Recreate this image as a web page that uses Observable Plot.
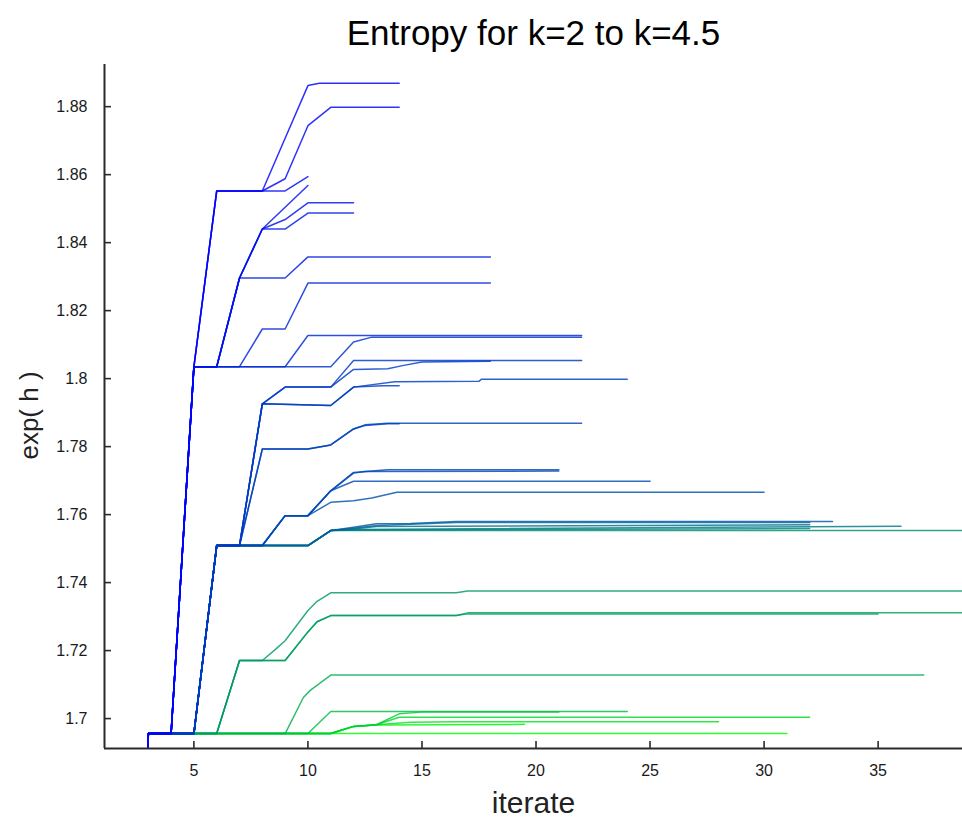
<!DOCTYPE html>
<html>
<head>
<meta charset="utf-8">
<script src="https://cdn.jsdelivr.net/npm/d3@7"></script>
<script src="https://cdn.jsdelivr.net/npm/@observablehq/plot@0.6"></script>
<style>
  html, body { margin: 0; padding: 0; background: #fff; }
  #chart { width: 962px; height: 819px; }
</style>
</head>
<body>
<div id="chart"></div>
<script>
// ---- axis limits and ticks ----
const xDomain = [1.08, 38.7];
const yDomain = [1.6912, 1.8924];
const xTicks = [5, 10, 15, 20, 25, 30, 35];
const yTicks = [1.70, 1.72, 1.74, 1.76, 1.78, 1.80, 1.82, 1.84, 1.86, 1.88];

// ---- shared beginnings of the runs: [iterate, exp(h)] ----
const start = [[2, 1.0], [3, 1.6956], [4, 1.6956]];
const topStart = [...start, [5, 1.8035]];
const midStart = [...start, [5, 1.6956], [6, 1.7509], [7, 1.7509]];
const clusterStart = [...start, [5, 1.6956], [6, 1.7509], [10, 1.7509], [11, 1.7553]];
const greenStart = [...start, [6, 1.6956], [7, 1.7171]];

// ---- upper runs ----
const T1 = [...topStart, [6, 1.8552], [8, 1.8552], [9, 1.8707], [10, 1.8862], [10.5, 1.8869], [14, 1.8869]];
const T2 = [...topStart, [6, 1.8552], [8, 1.8552], [9, 1.8588], [10, 1.8744], [11, 1.8798], [14, 1.8798]];
const T3 = [...topStart, [6, 1.8552], [9, 1.8552], [10, 1.8594]];
const T4 = [...topStart, [6, 1.8035], [7, 1.8296], [8, 1.8440], [10, 1.8568]];
const T5 = [...topStart, [6, 1.8035], [7, 1.8296], [8, 1.8440], [9, 1.8468], [10, 1.8517], [12, 1.8517]];
const T6 = [...topStart, [6, 1.8035], [7, 1.8296], [8, 1.8440], [9, 1.8440], [10, 1.8487], [12, 1.8487]];
const T7 = [...topStart, [6, 1.8035], [7, 1.8296], [9, 1.8296], [10, 1.8358], [18, 1.8358]];
const T8 = [...topStart, [7, 1.8035], [8, 1.8146], [9, 1.8146], [10, 1.8281], [18, 1.8281]];
const T9 = [...topStart, [9, 1.8035], [10, 1.8127], [22, 1.8127]];
const T10 = [...topStart, [11, 1.8035], [12, 1.8108], [12.8, 1.8122], [22, 1.8122]];

// ---- middle runs ----
const M1 = [...midStart, [8, 1.7926], [9, 1.7975], [11, 1.7975], [12, 1.8053], [22, 1.8053]];
const M2 = [...midStart, [8, 1.7926], [9, 1.7975], [11, 1.7975], [12, 1.8027], [13.5, 1.8029], [14.2, 1.8039], [15, 1.8049], [18, 1.8051]];
const M3 = [...midStart, [8, 1.7926], [11, 1.7921], [12, 1.7975], [13.3, 1.7979], [14, 1.7979]];
const M4 = [...midStart, [8, 1.7926], [11, 1.7921], [12, 1.7975], [13.8, 1.7991], [17.5, 1.7992], [17.6, 1.7998], [24, 1.7998]];
const M5 = [...midStart, [8, 1.7793], [10, 1.7793], [11, 1.7805], [12, 1.7852], [12.5, 1.7862], [13.5, 1.7867], [14, 1.7867]];
const M6 = [...midStart, [8, 1.7793], [10, 1.7793], [11, 1.7805], [12, 1.7852], [12.5, 1.7864], [13.5, 1.7869], [22, 1.7869]];
const M7 = [...midStart, [8, 1.7509], [9, 1.7597], [10, 1.7597], [11, 1.7670], [12, 1.7722], [12.5, 1.7727], [21, 1.7728]];
const M8 = [...midStart, [8, 1.7509], [9, 1.7597], [10, 1.7597], [11, 1.7670], [12, 1.7724], [13.5, 1.7732], [21, 1.7732]];
const M9 = [...midStart, [8, 1.7509], [9, 1.7597], [10, 1.7597], [11, 1.7670], [12, 1.7698], [25, 1.7698]];
const M10 = [...midStart, [8, 1.7509], [9, 1.7597], [10, 1.7597], [11, 1.7636], [12, 1.7641], [12.8, 1.7649], [13.9, 1.7666], [30, 1.7666]];

// ---- 1.755 bundle ----
const C1 = [...clusterStart, [12, 1.7563], [12.5, 1.7568], [13, 1.7573], [14.5, 1.7574], [16.5, 1.7580], [33, 1.7580]];
const C2 = [...clusterStart, [12, 1.7560], [13, 1.7568], [14.5, 1.7572], [16.5, 1.7577], [32, 1.7577]];
const C3 = [...clusterStart, [12, 1.7558], [13, 1.7565], [32, 1.7570]];
const C4 = [...clusterStart, [12, 1.7556], [36, 1.7566]];
const C5 = [...clusterStart, [12, 1.7555], [32, 1.7559]];
const C6 = [...clusterStart, [39, 1.7553]];

// ---- lower runs ----
const G1 = [...greenStart, [8, 1.7171], [8.6, 1.7205], [9, 1.7229], [10, 1.7318], [10.4, 1.7345], [11, 1.7370], [16.5, 1.7370], [17, 1.7375], [39, 1.7375]];
const G2 = [...greenStart, [9, 1.7171], [10, 1.7255], [10.4, 1.7285], [11, 1.7303], [16.5, 1.7303], [17, 1.7308], [35, 1.7308]];
const G2b = [...greenStart, [9, 1.7171], [10, 1.7255], [10.4, 1.7285], [11, 1.7303], [16.5, 1.7303], [17, 1.7311], [39, 1.7311]];
const G3 = [...start, [9, 1.6956], [9.8, 1.7062], [10.1, 1.7083], [11, 1.7128], [37, 1.7128]];
const B6 = [...start, [10, 1.6956], [11, 1.7021], [24, 1.7021]];
const B5 = [...start, [11, 1.6956], [12, 1.6977], [13, 1.6982], [14, 1.7014], [15, 1.7019], [21, 1.7019]];
const B4 = [...start, [11, 1.6956], [12, 1.6977], [13, 1.6982], [14, 1.7004], [32, 1.7004]];
const B3 = [...start, [11, 1.6956], [12, 1.6977], [13, 1.6982], [14.5, 1.6989], [16.5, 1.6991], [28, 1.6991]];
const B2 = [...start, [11, 1.6956], [12, 1.6977], [13, 1.6981], [19.5, 1.6983]];
const B1 = [...start, [31, 1.6956]];

// ---- k value of each run ----
const runs = [T1, T2, T3, T4, T5, T6, T7, T8, T9, T10,
              M1, M2, M3, M4, M5, M6, M7, M8, M9, M10,
              C1, C2, C3, C4, C5, C6,
              G1, G2, G2b, G3,
              B6, B5, B4, B3, B2, B1];
const kValues = [2.00, 2.05, 2.10, 2.15, 2.20, 2.25, 2.30, 2.35, 2.42, 2.50,
                 2.55, 2.58, 2.60, 2.62, 2.65, 2.68, 2.70, 2.72, 2.75, 2.80,
                 2.90, 3.00, 3.10, 3.20, 3.30, 3.40,
                 3.50, 3.55, 3.60, 3.70,
                 3.85, 4.00, 4.12, 4.25, 4.38, 4.50];

// draw highest k first so the blue runs end up on top
const order = d3.range(runs.length).sort((a, b) => kValues[b] - kValues[a]);
const rows = order.flatMap(i => runs[i].map(([x, y]) => ({x, y, k: kValues[i], id: i})));

const fmt = d => String(Math.round(d * 100) / 100);
const axisColor = "#2b2b2b";
const W = 962, H = 819, mT = 64, mB = 71, mL = 104, mR = 0;
const frameW = W - mL - mR, frameH = H - mT - mB;

const chart = Plot.plot({
  width: W,
  height: H,
  marginTop: mT,
  marginBottom: mB,
  marginLeft: mL,
  marginRight: mR,
  style: {fontFamily: "'Liberation Sans', Arial, Helvetica, sans-serif", fontSize: "16px", color: "#1a1a1a", background: "#fff"},
  x: {domain: xDomain, label: null},
  y: {domain: yDomain, label: null},
  color: {type: "linear", domain: [2, 4.5], range: ["#0000ff", "#00ff00"], interpolate: "rgb"},
  marks: [
    Plot.line(rows, {x: "x", y: "y", z: "id", stroke: "k", strokeWidth: 1.5, strokeOpacity: 0.82, clip: true}),
    // inward tick marks
    Plot.tickX(xTicks, {x: d => d, insetTop: frameH - 7, stroke: axisColor, strokeWidth: 1.6}),
    Plot.tickY(yTicks, {y: d => d, insetRight: frameW - 7, stroke: axisColor, strokeWidth: 1.6}),
    Plot.ruleX([xDomain[0]], {stroke: axisColor, strokeWidth: 2}),
    Plot.ruleY([yDomain[0]], {stroke: axisColor, strokeWidth: 2}),
    Plot.axisX({ticks: xTicks, tickSize: 0, tickPadding: 16, label: null, tickFormat: fmt}),
    Plot.axisY({ticks: yTicks, tickSize: 0, tickPadding: 17, label: null, tickFormat: fmt}),
    Plot.text(["Entropy for k=2 to k=4.5"], {frameAnchor: "top", dy: -31, fontSize: 35, fill: "#000", lineAnchor: "middle"}),
    Plot.text(["iterate"], {frameAnchor: "bottom", dy: 55, fontSize: 30, fill: "#222", lineAnchor: "middle"}),
    Plot.text(["exp( h )"], {frameAnchor: "left", dx: -75, dy: 9, rotate: -90, fontSize: 26, fill: "#222", textAnchor: "middle", lineAnchor: "middle"})
  ]
});
document.getElementById("chart").appendChild(chart);
</script>
</body>
</html>
